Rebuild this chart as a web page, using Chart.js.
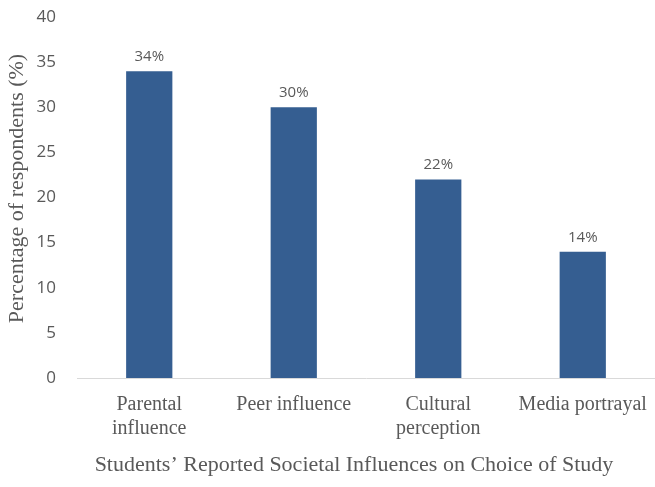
<!DOCTYPE html>
<html>
<head>
<meta charset="utf-8">
<script src="https://cdn.jsdelivr.net/npm/chart.js@4/dist/chart.umd.min.js"></script>
<style>
html,body{margin:0;padding:0;background:#fff;}
#wrap{width:655px;height:487px;position:relative;}
</style>
</head>
<body>
<div id="wrap"><canvas id="c" width="655" height="487"></canvas></div>
<script>
const categories = [["Parental","influence"],["Peer influence"],["Cultural","perception"],["Media portrayal"]];
const values = [34, 30, 22, 14];
const yTicks = [0,5,10,15,20,25,30,35,40];
const xTitle = "Students\u2019 Reported Societal Influences on Choice of Study";
const yTitle = "Percentage of respondents (%)";

const labelPlugin = {
  id: 'barLabels',
  afterDatasetsDraw(chart) {
    const ctx = chart.ctx;
    const meta = chart.getDatasetMeta(0);
    ctx.save();
    ctx.font = '15px "Open Sans"';
    ctx.fillStyle = '#595959';
    ctx.textAlign = 'center';
    ctx.textBaseline = 'alphabetic';
    meta.data.forEach((bar, i) => {
      ctx.fillText(values[i] + '%', bar.x, bar.y - 10);
    });
    ctx.restore();
  }
};

const titlePlugin = {
  id: 'axisTitles',
  afterDraw(chart) {
    const ctx = chart.ctx;
    const a = chart.chartArea;
    ctx.save();
    ctx.font = '22px "Liberation Serif"';
    ctx.fillStyle = '#595959';
    ctx.textAlign = 'center';
    ctx.textBaseline = 'middle';
    ctx.fillText(xTitle, (a.left + a.right) / 2 - 12, chart.height - 22);
    ctx.translate(17, (a.top + a.bottom) / 2 - 9);
    ctx.rotate(-Math.PI / 2);
    ctx.fillText(yTitle, 0, 0);
    ctx.restore();
  }
};

new Chart(document.getElementById('c'), {
  type: 'bar',
  data: {
    labels: categories,
    datasets: [{
      data: values,
      backgroundColor: '#355E91',
      barPercentage: 0.32,
      categoryPercentage: 1.0
    }]
  },
  options: {
    responsive: false,
    animation: false,
    layout: { padding: { top: 17, right: 0, left: 0, bottom: 0 } },
    plugins: { legend: { display: false }, tooltip: { enabled: false } },
    scales: {
      x: {
        grid: { display: false },
        border: { display: true, color: '#d9d9d9', width: 1 },
        ticks: {
          color: '#595959',
          font: { family: '"Liberation Serif"', size: 20 },
          padding: 7,
          maxRotation: 0,
          autoSkip: false
        },
        afterFit(axis) {
          axis.height = 109;
          axis.paddingLeft = 0;
          axis.paddingRight = 0;
        }
      },
      y: {
        min: 0, max: 40,
        afterBuildTicks(axis) { axis.ticks = yTicks.map(v => ({ value: v })); },
        grid: { display: false },
        border: { display: false },
        ticks: {
          color: '#595959',
          font: { family: '"Open Sans"', size: 17 },
          padding: 13
        },
        afterFit(axis) {
          axis.width = 77;
          axis.paddingTop = 0;
          axis.paddingBottom = 0;
        }
      }
    }
  },
  plugins: [labelPlugin, titlePlugin]
});
</script>
</body>
</html>
